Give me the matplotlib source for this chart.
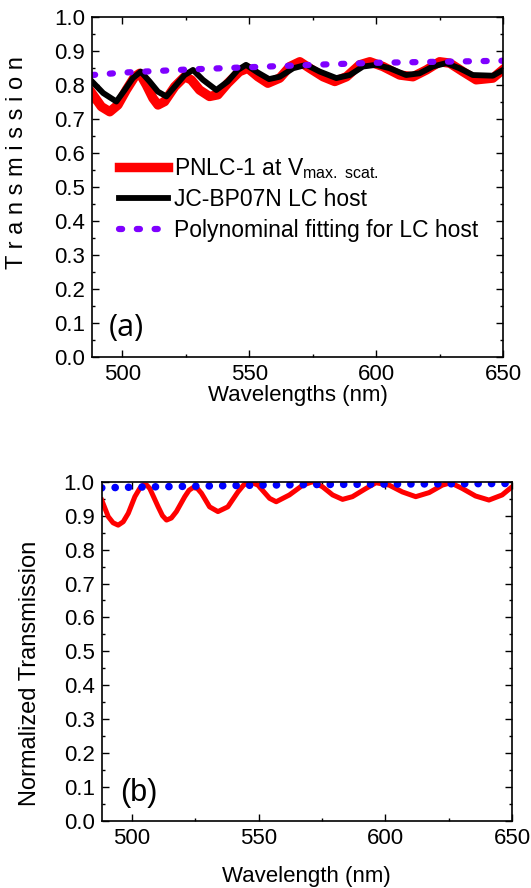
import numpy as np
import matplotlib
matplotlib.use("Agg")
import matplotlib.pyplot as plt
from matplotlib.ticker import MultipleLocator

plt.rcParams['font.family'] = ['Liberation Sans', 'DejaVu Sans']
plt.rcParams['mathtext.fontset'] = 'custom'
plt.rcParams['mathtext.rm'] = 'Liberation Sans'
plt.rcParams['mathtext.it'] = 'Liberation Sans:italic'

wl_pnlc = [488, 491.7, 495, 498.2, 501.5, 504.8, 506.8, 509.4, 512, 514, 516.6,
           520.6, 524.5, 527.1, 530.4, 534.3, 537.6, 541.5, 546.1, 549.4, 553.4,
           557.3, 562, 566, 569.9, 573.8, 579.1, 583.7, 588.3, 593.5, 597.5,
           602.7, 609.3, 614.5, 619.8, 625, 629, 634.2, 639.4, 646, 650]
t_pnlc = [0.775, 0.736, 0.721, 0.741, 0.785, 0.824, 0.834, 0.800, 0.761, 0.741, 0.751,
          0.795, 0.824, 0.815, 0.785, 0.766, 0.771, 0.805, 0.839, 0.849, 0.824,
          0.805, 0.820, 0.854, 0.868, 0.849, 0.824, 0.810, 0.824, 0.859, 0.868,
          0.854, 0.829, 0.824, 0.844, 0.868, 0.864, 0.839, 0.815, 0.820, 0.845]

wl_host = [488, 492.4, 497.6, 500.9, 504.1, 507.2, 510.7, 514, 517.3, 520.6, 524.5,
           527.8, 531.7, 537, 541.5, 545.5, 548.7, 553.4, 557.8, 562, 567.3, 572.5,
           577.8, 584.3, 589.6, 594.8, 600, 605.3, 611.8, 617.1, 622.3, 627.6,
           632.8, 638.1, 646, 650]
t_host = [0.810, 0.776, 0.751, 0.785, 0.820, 0.839, 0.810, 0.780, 0.766, 0.795, 0.829,
          0.844, 0.815, 0.785, 0.810, 0.844, 0.859, 0.836, 0.817, 0.824, 0.849, 0.859,
          0.839, 0.820, 0.829, 0.854, 0.859, 0.849, 0.829, 0.834, 0.854, 0.864,
          0.849, 0.829, 0.827, 0.844]

wl_fit = [488, 500, 525, 550, 575, 600, 625, 650]
t_fit = [0.829, 0.836, 0.845, 0.852, 0.859, 0.865, 0.868, 0.871]

# (b) normalized transmission
wl_norm = [488, 490.6, 492.5, 494.5, 496.5, 498.5, 501.1, 503, 504.4, 505.8, 507,
           510.3, 512, 513.6, 515.5, 517.5, 520.8, 522.5, 524.1, 525.8, 527.4,
           530.6, 533.9, 537.8, 541.8, 544, 545.7, 547.5, 549.7, 554.3, 556.9,
           562.1, 567.4, 571.3, 575.2, 579.2, 583.1, 587, 592.3, 596.3, 601.5,
           606.7, 612, 617.3, 622.5, 625.8, 630.4, 635.6, 640.9, 646.1, 650]
t_norm = [0.946, 0.897, 0.879, 0.872, 0.882, 0.907, 0.956, 0.980, 0.990, 0.990, 0.980,
          0.926, 0.900, 0.887, 0.893, 0.912, 0.956, 0.975, 0.983, 0.980, 0.966,
          0.926, 0.912, 0.926, 0.970, 0.990, 0.997, 0.997, 0.990, 0.951, 0.941,
          0.961, 0.990, 1.000, 0.985, 0.961, 0.948, 0.956, 0.980, 0.997, 0.990,
          0.970, 0.956, 0.968, 0.990, 0.997, 0.980, 0.958, 0.946, 0.961, 0.985]

wl_normfit = [488, 500, 525, 550, 575, 600, 625, 650]
t_normfit = [0.982, 0.984, 0.987, 0.990, 0.992, 0.993, 0.994, 0.995]

fig = plt.figure(figsize=(5.31, 8.88), dpi=100)
ax1 = fig.add_axes([0.1733, 0.598, 0.774, 0.383])
ax2 = fig.add_axes([0.1915, 0.0755, 0.7727, 0.382])

FS = 16

def style(ax):
    ax.set_xlim(488, 650)
    ax.set_ylim(0, 1.0)
    ax.xaxis.set_major_locator(MultipleLocator(50))
    ax.xaxis.set_minor_locator(MultipleLocator(25))
    ax.yaxis.set_major_locator(MultipleLocator(0.1))
    ax.yaxis.set_minor_locator(MultipleLocator(0.05))
    ax.yaxis.set_major_formatter(plt.FormatStrFormatter('%.1f'))
    ax.tick_params(which='both', direction='in', top=True, right=True, width=1.0,
                   labelsize=FS)
    ax.tick_params(which='major', length=5, pad=5)
    ax.tick_params(which='minor', length=2.5)
    for s in ax.spines.values():
        s.set_linewidth(1.2)

style(ax1)
style(ax2)

ax1.plot(wl_pnlc, t_pnlc, color='#ff0000', lw=6.8, solid_joinstyle='round',
         label=r'PNLC-1 at V$_{\mathrm{max.\ scat.}}$')
ax1.plot(wl_host, t_host, color='black', lw=4.2, solid_joinstyle='round',
         label='JC-BP07N LC host')
ax1.plot(wl_fit, t_fit, color='#7f00ff', lw=4.5, dashes=(0.5, 2.35),
         dash_capstyle='round', label='Polynominal fitting for LC host')
ax1.legend(loc='upper left', bbox_to_anchor=(0.066, 0.592), frameon=False,
           fontsize=16.5, handlelength=2.15, handletextpad=0.25, labelspacing=0.33,
           borderpad=0, borderaxespad=0)
ax1.text(0.04, 0.085, '(a)', transform=ax1.transAxes, fontsize=22,
         family=['Open Sans', 'DejaVu Sans'], va='center', ha='left')
ax1.set_xlabel('Wavelengths (nm)', fontsize=FS, labelpad=0)

ax2.plot(wl_norm, t_norm, color='#ff0000', lw=3.6, solid_joinstyle='round')
ax2.plot(wl_normfit, t_normfit, color='#0000ff', lw=5.5, dashes=(0.01, 1.75),
         dash_capstyle='round')
ax2.text(0.045, 0.083, '(b)', transform=ax2.transAxes, fontsize=22,
         va='center', ha='left')
ax2.set_xlabel('Wavelength (nm)', fontsize=FS, labelpad=12)

fig.text(0.032, 0.8164, 'T r a n s m i s s i o n', rotation=90, fontsize=17,
         ha='center', va='center')
fig.text(0.0565, 0.242, 'Normalized Transmission', rotation=90, fontsize=17,
         ha='center', va='center')

fig.savefig('out.png', dpi=100)
